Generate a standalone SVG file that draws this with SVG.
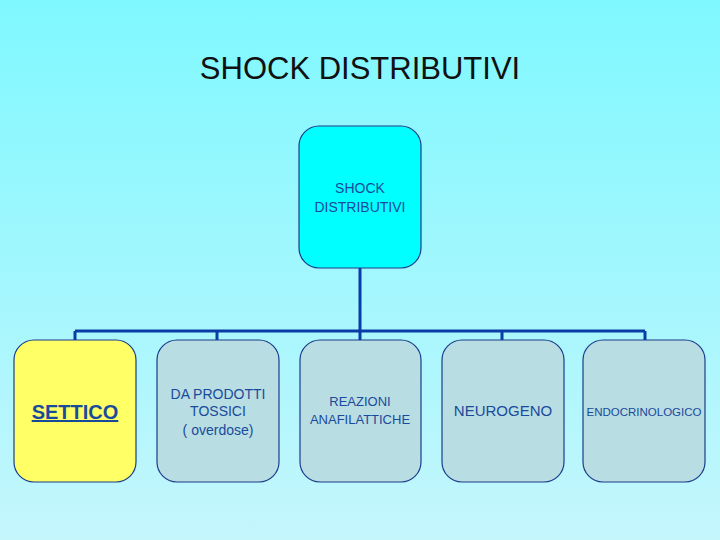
<svg xmlns="http://www.w3.org/2000/svg" width="720" height="540" viewBox="0 0 720 540">
<defs>
<linearGradient id="bg" x1="0" y1="0" x2="0" y2="1">
<stop offset="0" stop-color="#7ff8ff"/><stop offset="1" stop-color="#c4f6fc"/>
</linearGradient>
<style>
.box{stroke:#1a3c8c;stroke-width:1.2}
.child{fill:#b8dde2}
.t{font-family:"Liberation Sans",Arial,sans-serif;fill:#1a4a9c;text-anchor:middle}
.c{stroke:#0a3ca8;stroke-width:3;fill:none}
</style>
</defs>
<rect width="720" height="540" fill="url(#bg)"/>
<text x="360" y="79" class="t" style="fill:#111;font-size:31px">SHOCK DISTRIBUTIVI</text>
<g id="connectors">
<path class="c" d="M360 268V331M75 331H645M75 331V340M217 331V340M360 331V340M502 331V340M645 331V340"/>
</g>
<g id="root"><rect class="box" x="299" y="126" width="122" height="142" rx="20" fill="#00ffff"/>
<text class="t" font-size="14" x="360" y="193">SHOCK</text><text class="t" font-size="14" x="360" y="212">DISTRIBUTIVI</text></g>
<g id="settico"><rect class="box" x="14" y="340" width="122" height="142" rx="20" fill="#ffff66"/>
<text class="t" font-size="20" font-weight="bold" text-decoration="underline" x="75" y="419">SETTICO</text></g>
<g id="tossici"><rect class="box child" x="157" y="340" width="122" height="142" rx="20"/>
<text class="t" font-size="14" x="218" y="399">DA PRODOTTI</text><text class="t" font-size="14" x="218" y="416">TOSSICI</text><text class="t" font-size="14" x="218" y="435">( overdose)</text></g>
<g id="anafilattiche"><rect class="box child" x="300" y="340" width="121" height="142" rx="20"/>
<text class="t" font-size="13" x="360" y="406">REAZIONI</text><text class="t" font-size="13" x="360" y="424">ANAFILATTICHE</text></g>
<g id="neurogeno"><rect class="box child" x="442" y="340" width="122" height="142" rx="20"/>
<text class="t" font-size="15" x="503" y="416">NEUROGENO</text></g>
<g id="endocrino"><rect class="box child" x="583" y="340" width="122" height="142" rx="20"/>
<text class="t" font-size="11.5" x="644" y="416">ENDOCRINOLOGICO</text></g>
</svg>
